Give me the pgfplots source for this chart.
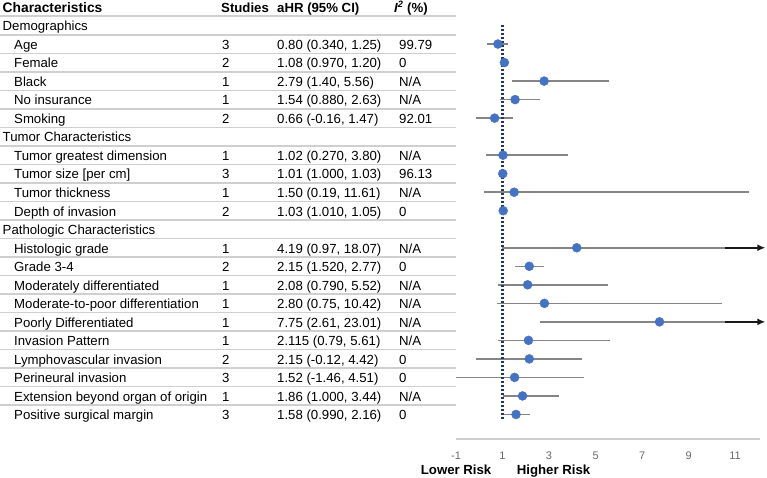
\documentclass[border=0pt]{standalone}
\usepackage{pgfplots}
\usepackage{pgfplotstable}
\pgfplotsset{compat=1.18}
\usepackage{fontspec}
\setmainfont{Liberation Sans}
\usetikzlibrary{arrows.meta}

\definecolor{dotblue}{HTML}{4472C4}
\definecolor{navyline}{HTML}{1F3864}
\definecolor{cigray}{HTML}{858585}
\definecolor{rulegray}{HTML}{CFCFCF}
\definecolor{axisgray}{HTML}{CFCFCF}
\definecolor{tickgray}{HTML}{6A6A6A}

\pgfplotstableread{
r  est   lo     hi
2  0.80  0.34   1.25
3  1.08  0.97   1.20
4  2.79  1.40   5.56
5  1.54  0.88   2.63
6  0.66  -0.16  1.47
8  1.02  0.27   3.80
9  1.01  1.00   1.03
10 1.50  0.19   11.61
11 1.03  1.01   1.05
13 4.19  0.97   18.07
14 2.15  1.52   2.77
15 2.08  0.79   5.52
16 2.80  0.75   10.42
17 7.75  2.61   23.01
18 2.115 0.79   5.61
19 2.15  -0.12  4.42
20 1.52  -1.46  4.51
21 1.86  1.00   3.44
22 1.58  0.99   2.16
}\fdata

\newcommand{\itemrow}[5]{%
  \node[anchor=base west] at (14,{12.3+18.52*#1}) {#2};
  \node[anchor=base west] at (222,{12.3+18.52*#1}) {#3};
  \node[anchor=base west] at (277,{12.3+18.52*#1}) {#4};
  \node[anchor=base west] at (399,{12.3+18.52*#1}) {#5};}
\newcommand{\catrow}[2]{%
  \node[anchor=base west] at (2.5,{12.3+18.52*#1}) {#2};}

\pgfplotsset{forestax/.style={
  at={(456bp,-439bp)}, anchor=south west,
  scale only axis, width=304bp, height=439bp,
  xmin=-1, xmax=12.07, ymin=-23.326, ymax=0.378}}

\begin{document}
\fontsize{13.2bp}{15bp}\selectfont
\begin{tikzpicture}
\path[use as bounding box] (0,0) rectangle (767bp,-478bp);
\begin{scope}[x=1bp,y=-1bp,every node/.style={inner sep=0pt,font=\fontsize{13.2bp}{15bp}\selectfont}]
  \foreach \r in {0,...,21} {
    \draw[rulegray, line width=1.6bp] (0,{7+18.52*(\r+0.5)}) -- (456,{7+18.52*(\r+0.5)});
  }
  \node[anchor=base west] at (2.5,12.3) {\fontsize{13.8bp}{15bp}\selectfont\textbf{Characteristics}};
  \node[anchor=base west] at (221,12.3) {\textbf{Studies}};
  \node[anchor=base west] at (277,12.3) {\textbf{aHR (95\% CI)}};
  \node[anchor=base west] at (394,12.3) {\textbf{\textit{I\textsuperscript{2}} (\%)}};
  \catrow{1}{Demographics}
  \itemrow{2}{Age}{3}{0.80 (0.340, 1.25)}{99.79}
  \itemrow{3}{Female}{2}{1.08 (0.970, 1.20)}{0}
  \itemrow{4}{Black}{1}{2.79 (1.40, 5.56)}{N/A}
  \itemrow{5}{No insurance}{1}{1.54 (0.880, 2.63)}{N/A}
  \itemrow{6}{Smoking}{2}{0.66 (-0.16, 1.47)}{92.01}
  \catrow{7}{Tumor Characteristics}
  \itemrow{8}{Tumor greatest dimension}{1}{1.02 (0.270, 3.80)}{N/A}
  \itemrow{9}{Tumor size [per cm]}{3}{1.01 (1.000, 1.03)}{96.13}
  \itemrow{10}{Tumor thickness}{1}{1.50 (0.19, 11.61)}{N/A}
  \itemrow{11}{Depth of invasion}{2}{1.03 (1.010, 1.05)}{0}
  \catrow{12}{Pathologic Characteristics}
  \itemrow{13}{Histologic grade}{1}{4.19 (0.97, 18.07)}{N/A}
  \itemrow{14}{Grade 3-4}{2}{2.15 (1.520, 2.77)}{0}
  \itemrow{15}{Moderately differentiated}{1}{2.08 (0.790, 5.52)}{N/A}
  \itemrow{16}{Moderate-to-poor differentiation}{1}{2.80 (0.75, 10.42)}{N/A}
  \itemrow{17}{Poorly Differentiated}{1}{7.75 (2.61, 23.01)}{N/A}
  \itemrow{18}{Invasion Pattern}{1}{2.115 (0.79, 5.61)}{N/A}
  \itemrow{19}{Lymphovascular invasion}{2}{2.15 (-0.12, 4.42)}{0}
  \itemrow{20}{Perineural invasion}{3}{1.52 (-1.46, 4.51)}{0}
  \itemrow{21}{Extension beyond organ of origin}{1}{1.86 (1.000, 3.44)}{N/A}
  \itemrow{22}{Positive surgical margin}{3}{1.58 (0.990, 2.16)}{0}
  \node[anchor=base west] at (420.7,474.3) {\textbf{Lower Risk}};
  \node[anchor=base west] at (516.7,474.3) {\textbf{Higher Risk}};
\end{scope}

\begin{axis}[forestax,
  axis y line=none, axis x line=bottom,
  axis line style={draw=axisgray, line width=1.3bp, -},
  xtick={-1,1,3,5,7,9,11}, major tick length=0pt,
  xticklabel style={font=\fontsize{11bp}{13bp}\selectfont, text=tickgray, yshift=-8bp,
    /pgf/number format/assume math mode=true},
  clip=true]
  \addplot[draw=none, mark=none, forget plot,
    error bars/.cd, x dir=both, x explicit,
    error bar style={cigray, line width=1.5bp}, error mark=none]
    table[x=est, y expr=-\thisrow{r},
      x error plus expr=\thisrow{hi}-\thisrow{est},
      x error minus expr=\thisrow{est}-\thisrow{lo}] {\fdata};
  \addplot[navyline, line width=2.2bp, dash pattern=on 2bp off 2bp]
    coordinates {(1,-0.97) (1,-22.3)};
  \addplot[only marks, mark=*, mark size=4.5bp, dotblue, mark options={draw=dotblue, fill=dotblue}]
    table[x=est, y expr=-\thisrow{r}] {\fdata};
\end{axis}

\begin{axis}[forestax, hide axis, clip=false]
  \addplot[black!90, line width=1.5bp, -{Latex[length=8bp,width=7bp]}]
    coordinates {(10.57,-13) (12.3,-13)};
  \addplot[black!90, line width=1.5bp, -{Latex[length=8bp,width=7bp]}]
    coordinates {(10.57,-17) (12.3,-17)};
\end{axis}
\end{tikzpicture}
\end{document}
